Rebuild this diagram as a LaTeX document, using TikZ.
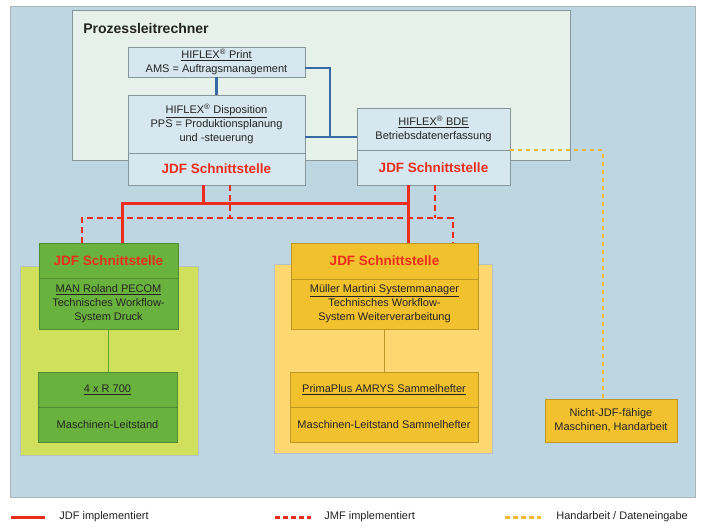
\documentclass[tikz,border=0pt]{standalone}
\usepackage{fontspec}
\setmainfont{Liberation Sans}
\usetikzlibrary{positioning}

\definecolor{hintergrund}{RGB}{190,214,225}
\definecolor{plrgruen}{RGB}{230,241,233}
\definecolor{kastenblau}{RGB}{214,231,239}
\definecolor{rahmen}{RGB}{135,150,155}
\definecolor{schrift}{RGB}{35,35,35}
\definecolor{jdfrot}{RGB}{236,45,30}
\definecolor{netzblau}{RGB}{55,105,165}
\definecolor{dunkelgruen}{RGB}{106,178,62}
\definecolor{hellgruen}{RGB}{208,224,92}
\definecolor{gruenrand}{RGB}{80,140,50}
\definecolor{gruenlinie}{RGB}{85,170,45}
\definecolor{dunkelgelb}{RGB}{242,193,46}
\definecolor{hellgelb}{RGB}{253,216,112}
\definecolor{gelbrand}{RGB}{190,150,40}
\definecolor{handgelb}{RGB}{247,185,50}

\tikzset{every picture/.style={line width=0.75pt}}
\tikzset{
  kasten/.style={draw=rahmen, fill=kastenblau, line width=0.6pt, inner sep=0pt,
    align=center, text=schrift, font=\fontsize{11}{14}\selectfont},
  gkasten/.style={kasten, draw=gruenrand, fill=dunkelgruen},
  ykasten/.style={kasten, draw=gelbrand, fill=dunkelgelb},
  jdftext/.style={text=jdfrot, font=\bfseries\fontsize{13.5}{16}\selectfont},
  flaeche/.style={draw=rahmen!60, line width=0.5pt, inner sep=0pt},
  jdflinie/.style={jdfrot, line width=3pt},
  jmflinie/.style={jdfrot, line width=2.8pt, dash pattern=on 6pt off 4pt},
  handlinie/.style={handgelb, line width=2.2pt, dash pattern=on 4pt off 4pt},
  netzlinie/.style={netzblau, line width=2.2pt},
  legende/.style={anchor=west, inner sep=0pt, text=schrift, font=\fontsize{11}{13}\selectfont}
}

\begin{document}
\begin{tikzpicture}[x=1pt,y=-1pt]

\useasboundingbox (0,0) rectangle (703,530);
\fill [white] (0,0) rectangle (703,530);
\filldraw [fill=hintergrund, draw=rahmen!70] (10,6) rectangle (695,497);

% Prozessleitrechner
\node [flaeche, draw=rahmen, fill=plrgruen, minimum width=498pt, minimum height=150pt] (plr) at (321.5,85) {};
\node [anchor=west, inner sep=0pt, text=schrift, font=\bfseries\fontsize{14}{16}\selectfont] (plrtitel) at (83,28) {Prozessleitrechner};

\node [kasten, minimum width=177pt, minimum height=30pt] (print) at (216.5,62) {\underline{HIFLEX\textsuperscript{®} Print}\\AMS = Auftragsmanagement};
\node [kasten, minimum width=177pt, minimum height=58pt] (disp) at (216.5,124) {\underline{HIFLEX\textsuperscript{®} Disposition}\\PPS = Produktionsplanung\\und -steuerung};
\node [kasten, jdftext, minimum width=177pt, minimum height=32pt] (dispjdf) at (216.5,169) {JDF Schnittstelle};

\node [kasten, minimum width=153pt, minimum height=42pt] (bde) at (433.5,129) {\underline{HIFLEX\textsuperscript{®} BDE}\\Betriebsdatenerfassung};
\node [kasten, jdftext, minimum width=153pt, minimum height=35pt] (bdejdf) at (433.5,167.5) {JDF Schnittstelle};

% Druck
\node [flaeche, fill=hellgruen, minimum width=178pt, minimum height=189pt] (druck) at (109,360.5) {};
\node [gkasten, jdftext, minimum width=139pt, minimum height=35pt] (gjdf) at (108.5,260.5) {JDF Schnittstelle};
\node [gkasten, minimum width=139pt, minimum height=51pt] (gman) at (108.5,303.5) {\underline{MAN Roland PECOM}\\Technisches Workflow-\\System Druck};
\node [gkasten, minimum width=139pt, minimum height=35pt] (g700) at (107.5,389.5) {\underline{4 x R 700}};
\node [gkasten, minimum width=139pt, minimum height=35pt] (gleit) at (107.5,424.5) {Maschinen-Leitstand};

% Weiterverarbeitung
\node [flaeche, fill=hellgelb, minimum width=218pt, minimum height=189pt] (wv) at (383,358.5) {};
\node [ykasten, jdftext, minimum width=187pt, minimum height=36pt] (yjdf) at (384.5,261) {JDF Schnittstelle};
\node [ykasten, minimum width=187pt, minimum height=50pt] (ymm) at (384.5,304) {\underline{Müller Martini Systemmanager}\\Technisches Workflow-\\System Weiterverarbeitung};
\node [ykasten, minimum width=188pt, minimum height=35pt] (yprima) at (384,389.5) {\underline{PrimaPlus AMRYS Sammelhefter}};
\node [ykasten, minimum width=188pt, minimum height=35pt] (yleit) at (384,424.5) {Maschinen-Leitstand Sammelhefter};

\node [ykasten, minimum width=132pt, minimum height=43pt] (nicht) at (611,420.5) {Nicht-JDF-fähige\\Maschinen, Handarbeit};

% Verbindungen
\coordinate (jdfbus) at (0,203);
\coordinate (jmfbus) at (0,218);
\coordinate (netz) at (330,137);
\coordinate (dA) at ([xshift=-13.5pt]dispjdf.south);
\coordinate (dB) at ([xshift=13.5pt]dispjdf.south);
\coordinate (bA) at ([xshift=-25.5pt]bdejdf.south);
\coordinate (bB) at ([xshift=1.5pt]bdejdf.south);
\coordinate (gA) at ([xshift=13.5pt]gjdf.north);
\coordinate (gB) at ([xshift=-26.5pt]gjdf.north);
\coordinate (yA) at ([xshift=23.5pt]yjdf.north);
\coordinate (yB) at ([xshift=68.5pt]yjdf.north);
\coordinate (nA) at ([xshift=-8pt]nicht.north);

\draw [netzlinie] (print.south) -- (disp.north);
\draw [netzlinie] ([yshift=-6pt]print.east) -| (netz);
\draw [netzlinie] (disp.east |- netz) -- (bde.west |- netz);

\draw [jmflinie] (gB) |- (yB |- jmfbus) -- (yB);
\draw [jmflinie] (dB) -- (dB |- jmfbus);
\draw [jmflinie] (bB) -- (bB |- jmfbus);

\draw [jdflinie] (gA) |- (yA |- jdfbus) -- (yA);
\draw [jdflinie] (dA) -- (dA |- jdfbus);
\draw [jdflinie] (bA) -- (bA |- jdfbus);

\draw [handlinie] (bde.south east) -| (nA);

\draw [gruenlinie, line width=1.5pt] (gman.south) -- (gman.south |- g700.north);
\draw [gelbrand, line width=1pt] (ymm.south) -- (ymm.south |- yprima.north);

% Legende
\coordinate (l1a) at (11,517);
\coordinate (l1b) at (45,517);
\coordinate (l2a) at (275,517);
\coordinate (l2b) at (311,517);
\coordinate (l3a) at (505,517);
\coordinate (l3b) at (541,517);
\draw [jdflinie] (l1a) -- (l1b);
\draw [jdfrot, line width=3pt, dash pattern=on 5pt off 3pt] (l2a) -- (l2b);
\draw [handlinie, line width=3pt, dash pattern=on 5pt off 3pt] (l3a) -- (l3b);
\node [legende] (leg1) at (59,517) {JDF implementiert};
\node [legende] (leg2) at (324,517) {JMF implementiert};
\node [legende] (leg3) at (556,517) {Handarbeit / Dateneingabe};

\end{tikzpicture}
\end{document}
